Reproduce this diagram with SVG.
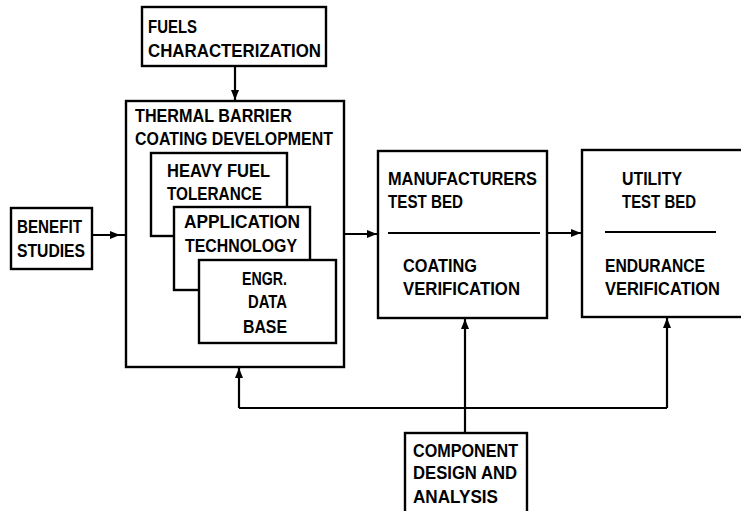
<svg xmlns="http://www.w3.org/2000/svg" width="741" height="511" viewBox="0 0 741 511">
<defs>
<marker id="ah" viewBox="0 0 10 8" refX="10" refY="4" markerWidth="10" markerHeight="8" markerUnits="userSpaceOnUse" orient="auto">
<path d="M0,0 L10,4 L0,8 Z" fill="#000"/>
</marker>
<style>
rect{fill:#fff;stroke:#000;stroke-width:2.4}
.l{fill:none;stroke:#000;stroke-width:2.2}
text{font-family:"Liberation Sans",Arial,sans-serif;font-weight:bold;font-size:18px;fill:#000}
</style>
</defs>
<rect x="0" y="0" width="741" height="511" style="stroke:none"/>
<g id="connectors">
<path class="l" d="M235,66 L235,100" marker-end="url(#ah)"/>
<path class="l" d="M92,235 L120,235 L126,235" marker-mid="url(#ah)"/>
<path class="l" d="M344,234 L377,234" marker-end="url(#ah)"/>
<path class="l" d="M547,233 L581,233" marker-end="url(#ah)"/>
<path class="l" d="M465,433 L465,319" marker-end="url(#ah)"/>
<path class="l" d="M239,408 L667,408"/>
<path class="l" d="M239,408 L239,368" marker-end="url(#ah)"/>
<path class="l" d="M667,408 L667,318" marker-end="url(#ah)"/>
</g>
<g id="fuels">
<rect x="142" y="7" width="184" height="59"/>
<text x="148" y="33" textLength="49" lengthAdjust="spacingAndGlyphs">FUELS</text>
<text x="148" y="57" textLength="173" lengthAdjust="spacingAndGlyphs">CHARACTERIZATION</text>
</g>
<g id="tbc">
<rect x="126" y="101" width="218" height="266"/>
<text x="135" y="122" textLength="157" lengthAdjust="spacingAndGlyphs">THERMAL BARRIER</text>
<text x="135" y="145" textLength="198" lengthAdjust="spacingAndGlyphs">COATING DEVELOPMENT</text>
</g>
<g id="heavy">
<rect x="151" y="153" width="136" height="83"/>
<text x="167" y="177" textLength="103" lengthAdjust="spacingAndGlyphs">HEAVY FUEL</text>
<text x="167" y="200" textLength="95" lengthAdjust="spacingAndGlyphs">TOLERANCE</text>
</g>
<g id="application">
<rect x="174" y="207" width="136" height="83"/>
<text x="184" y="228" textLength="116" lengthAdjust="spacingAndGlyphs">APPLICATION</text>
<text x="185" y="252" textLength="112" lengthAdjust="spacingAndGlyphs">TECHNOLOGY</text>
</g>
<g id="engr">
<rect x="199" y="260" width="137" height="83"/>
<text x="242" y="285" textLength="45" lengthAdjust="spacingAndGlyphs">ENGR.</text>
<text x="248" y="308" textLength="39" lengthAdjust="spacingAndGlyphs">DATA</text>
<text x="243" y="333" textLength="44" lengthAdjust="spacingAndGlyphs">BASE</text>
</g>
<g id="benefit">
<rect x="11" y="208" width="81" height="61"/>
<text x="17" y="233" textLength="65" lengthAdjust="spacingAndGlyphs">BENEFIT</text>
<text x="17" y="257" textLength="68" lengthAdjust="spacingAndGlyphs">STUDIES</text>
</g>
<g id="manufacturers">
<rect x="378" y="151" width="169" height="167"/>
<text x="388" y="185" textLength="149" lengthAdjust="spacingAndGlyphs">MANUFACTURERS</text>
<text x="388" y="208" textLength="75" lengthAdjust="spacingAndGlyphs">TEST BED</text>
<path class="l" d="M388,233 L540,233"/>
<text x="403" y="272" textLength="74" lengthAdjust="spacingAndGlyphs">COATING</text>
<text x="403" y="295" textLength="117" lengthAdjust="spacingAndGlyphs">VERIFICATION</text>
</g>
<g id="utility">
<rect x="582" y="150" width="180" height="167"/>
<text x="622" y="185" textLength="60" lengthAdjust="spacingAndGlyphs">UTILITY</text>
<text x="622" y="208" textLength="74" lengthAdjust="spacingAndGlyphs">TEST BED</text>
<path class="l" d="M605,232 L716,232"/>
<text x="605" y="272" textLength="100" lengthAdjust="spacingAndGlyphs">ENDURANCE</text>
<text x="605" y="295" textLength="115" lengthAdjust="spacingAndGlyphs">VERIFICATION</text>
</g>
<g id="component">
<rect x="405" y="433" width="122" height="90"/>
<text x="413" y="457" textLength="105" lengthAdjust="spacingAndGlyphs">COMPONENT</text>
<text x="413" y="479" textLength="104" lengthAdjust="spacingAndGlyphs">DESIGN AND</text>
<text x="413" y="503" textLength="85" lengthAdjust="spacingAndGlyphs">ANALYSIS</text>
</g>
</svg>
